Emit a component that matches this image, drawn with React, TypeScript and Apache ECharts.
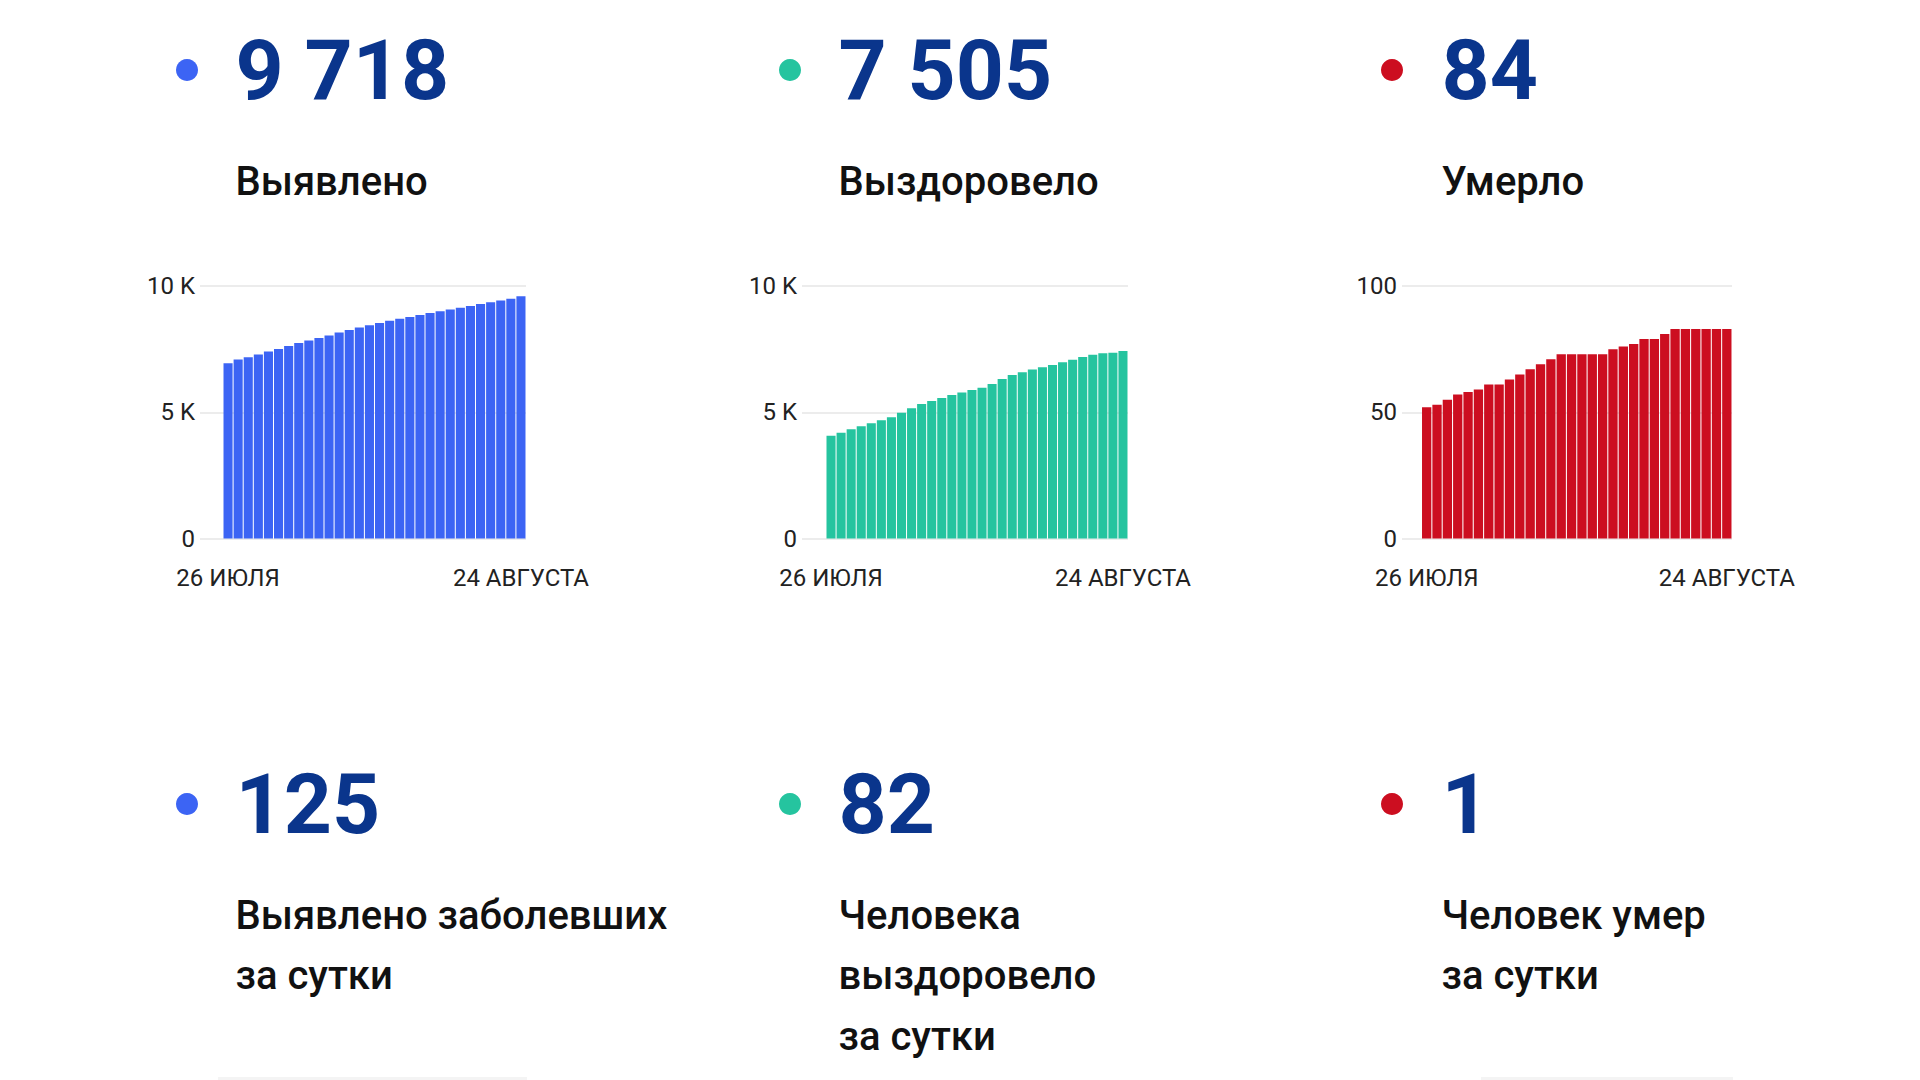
import React, { useEffect, useRef } from "react";
import * as echarts from "echarts";

const categories = [
  "26 ИЮЛЯ", "27 ИЮЛЯ", "28 ИЮЛЯ", "29 ИЮЛЯ", "30 ИЮЛЯ", "31 ИЮЛЯ",
  "1 АВГУСТА", "2 АВГУСТА", "3 АВГУСТА", "4 АВГУСТА", "5 АВГУСТА", "6 АВГУСТА",
  "7 АВГУСТА", "8 АВГУСТА", "9 АВГУСТА", "10 АВГУСТА", "11 АВГУСТА", "12 АВГУСТА",
  "13 АВГУСТА", "14 АВГУСТА", "15 АВГУСТА", "16 АВГУСТА", "17 АВГУСТА", "18 АВГУСТА",
  "19 АВГУСТА", "20 АВГУСТА", "21 АВГУСТА", "22 АВГУСТА", "23 АВГУСТА", "24 АВГУСТА",
];

const detected = [
  6945, 7090, 7175, 7285, 7405, 7510, 7620, 7740, 7840, 7945,
  8045, 8155, 8260, 8360, 8450, 8540, 8625, 8705, 8775, 8855,
  8935, 9000, 9070, 9140, 9205, 9285, 9355, 9430, 9497, 9593,
];

const recovered = [
  4068, 4195, 4325, 4445, 4563, 4690, 4808, 4980, 5165, 5324,
  5443, 5568, 5686, 5785, 5878, 5970, 6116, 6314, 6478, 6585,
  6690, 6783, 6877, 6982, 7080, 7186, 7278, 7338, 7360, 7423,
];

const died = [
  52, 53, 55, 57, 58, 59, 61, 61, 63, 65,
  67, 69, 71, 73, 73, 73, 73, 73, 75, 76,
  77, 79, 79, 81, 83, 83, 83, 83, 83, 83,
];

const totalValues = ["9 718", "7 505", "84"];
const totalLabels = ["Выявлено", "Выздоровело", "Умерло"];
const dailyValues = ["125", "82", "1"];
const dailyLabels = [
  ["Выявлено заболевших", "за сутки"],
  ["Человека", "выздоровело", "за сутки"],
  ["Человек умер", "за сутки"],
];
const yMax = [10000, 10000, 100];
const yInterval = [5000, 5000, 50];

const seriesColors = ["#3c64f4", "#25c49f", "#cc0e20"];
const numberColor = "#0a358c";
const FONT = "Roboto, 'Noto Sans', sans-serif";

// layout (pixels)
const columnX = [235.5, 838.5, 1441.5];
const dotX = [187, 790, 1392];
const gridFrameLeft = [200, 802, 1402];
const gridBarLeft = [223, 826, 1421.5];
const gridRight = [526, 1128, 1732];
const GRID_TOP = 286;
const GRID_H = 252.6;
const AXIS_FONT = 24;

export default function App() {
  const ref = useRef<HTMLDivElement>(null);

  useEffect(() => {
    if (!ref.current) return;
    const chart = echarts.init(ref.current, undefined, { renderer: "svg" });
    const seriesData = [detected, recovered, died];

    const grid: any[] = [];
    const xAxis: any[] = [];
    const yAxis: any[] = [];
    const series: any[] = [];

    for (let k = 0; k < 3; k++) {
      // frame grid: gridlines + y labels
      grid.push({
        left: gridFrameLeft[k],
        top: GRID_TOP,
        width: gridRight[k] - gridFrameLeft[k],
        height: GRID_H,
      });
      xAxis.push({ type: "value", gridIndex: 2 * k, show: false, min: 0, max: 1 });
      yAxis.push({
        type: "value",
        gridIndex: 2 * k,
        min: 0,
        max: yMax[k],
        interval: yInterval[k],
        axisLine: { show: false },
        axisTick: { show: false },
        splitLine: { show: true, lineStyle: { color: "#e6e6e6", width: 1.5 } },
        axisLabel: {
          fontSize: AXIS_FONT,
          fontFamily: FONT,
          color: "#222",
          margin: 5,
          formatter: (v: number) => (v >= 1000 ? `${v / 1000} K` : `${v}`),
        },
      });
      // bar grid
      grid.push({
        left: gridBarLeft[k],
        top: GRID_TOP,
        width: gridRight[k] - gridBarLeft[k],
        height: GRID_H,
      });
      const last = categories.length - 1;
      xAxis.push({
        type: "category",
        gridIndex: 2 * k + 1,
        data: categories,
        axisLine: { show: false },
        axisTick: { show: false },
        axisLabel: {
          interval: (i: number) => i === 0 || i === last,
          fontSize: AXIS_FONT,
          fontFamily: FONT,
          color: "#222",
          margin: 27,
          hideOverlap: false,
        },
      });
      yAxis.push({
        type: "value",
        gridIndex: 2 * k + 1,
        min: 0,
        max: yMax[k],
        show: false,
        splitLine: { show: false },
      });
      series.push({
        type: "bar",
        xAxisIndex: 2 * k + 1,
        yAxisIndex: 2 * k + 1,
        data: seriesData[k],
        barCategoryGap: "10%",
        itemStyle: { color: seriesColors[k] },
        silent: true,
      });
    }

    const graphics: any[] = [];
    for (let k = 0; k < 3; k++) {
      graphics.push({
        type: "circle",
        shape: { cx: dotX[k], cy: 70, r: 11 },
        style: { fill: seriesColors[k] },
      });
      graphics.push({
        type: "text",
        x: columnX[k],
        y: 70,
        style: {
          text: totalValues[k],
          fontSize: 84,
          fontWeight: 700,
          fontFamily: FONT,
          fill: numberColor,
          verticalAlign: "middle",
        },
      });
      graphics.push({
        type: "text",
        x: columnX[k],
        y: 181,
        style: {
          text: totalLabels[k],
          fontSize: 40,
          fontWeight: 500,
          fontFamily: FONT,
          fill: "#111",
          verticalAlign: "middle",
        },
      });
      graphics.push({
        type: "circle",
        shape: { cx: dotX[k], cy: 804, r: 11 },
        style: { fill: seriesColors[k] },
      });
      graphics.push({
        type: "text",
        x: columnX[k],
        y: 804,
        style: {
          text: dailyValues[k],
          fontSize: 84,
          fontWeight: 700,
          fontFamily: FONT,
          fill: numberColor,
          verticalAlign: "middle",
        },
      });
      dailyLabels[k].forEach((line, j) => {
        graphics.push({
          type: "text",
          x: columnX[k],
          y: 915 + j * 60.5,
          style: {
            text: line,
            fontSize: 40,
            fontWeight: 500,
            fontFamily: FONT,
            fill: "#111",
            verticalAlign: "middle",
          },
        });
      });
    }
    // faint separators at the bottom edge
    graphics.push({ type: "rect", shape: { x: 218, y: 1077, width: 309, height: 3 }, style: { fill: "#f4f4f4" } });
    graphics.push({ type: "rect", shape: { x: 1481, y: 1077, width: 252, height: 3 }, style: { fill: "#f4f4f4" } });

    chart.setOption({
      animation: false,
      backgroundColor: "#ffffff",
      grid,
      xAxis,
      yAxis,
      series,
      graphic: graphics,
    });

    return () => chart.dispose();
  }, []);

  return (
    <div
      ref={ref}
      style={{ position: "fixed", left: 0, top: 0, width: 1920, height: 1080, background: "#fff" }}
    />
  );
}
